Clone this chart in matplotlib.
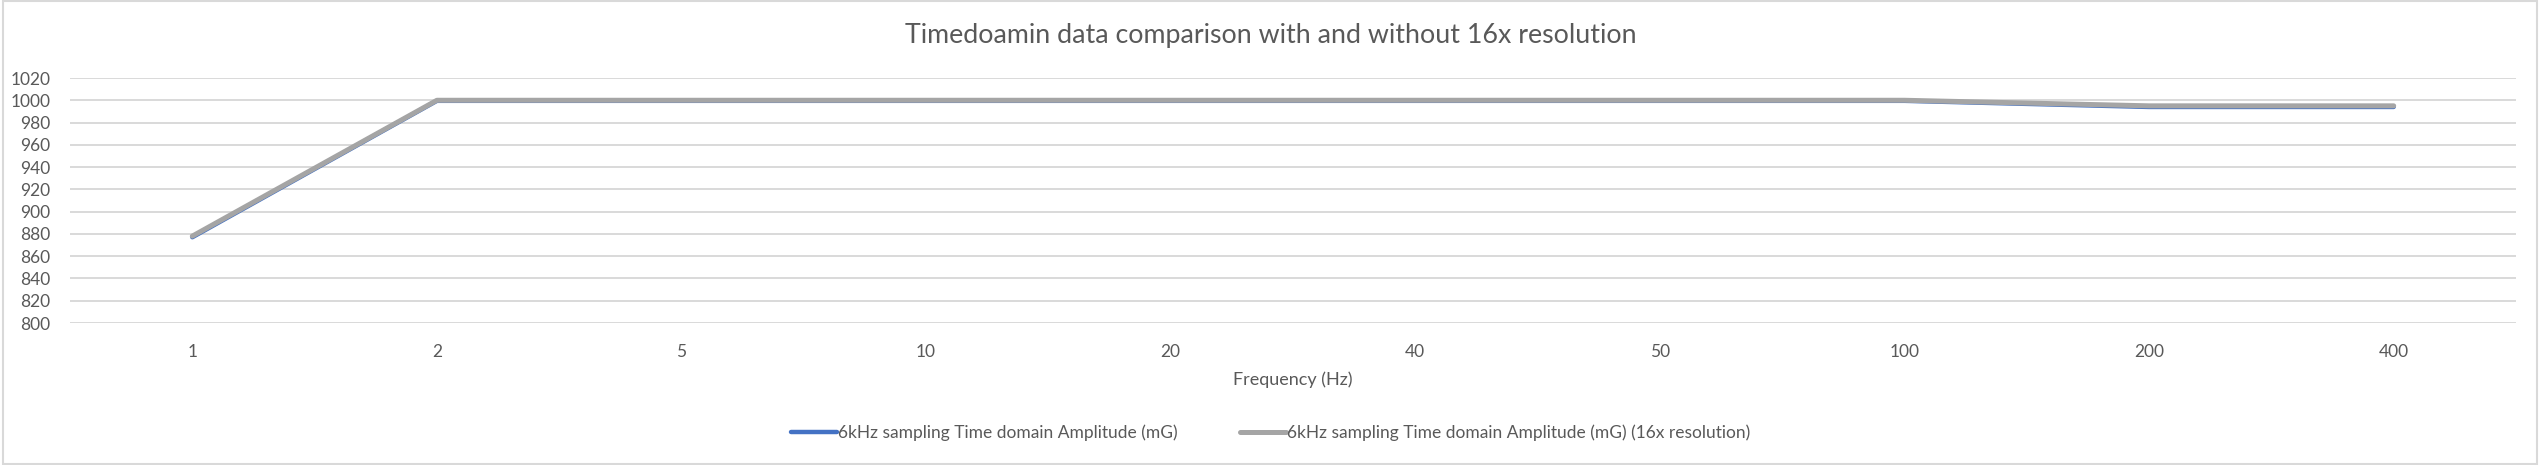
import numpy as np
import matplotlib
matplotlib.use("Agg")
from matplotlib import pyplot as plt
from matplotlib.patches import Rectangle

plt.rcParams['font.family'] = ['Lato', 'DejaVu Sans']

# data
freqs = ['1', '2', '5', '10', '20', '40', '50', '100', '200', '400']
amp_6k = [877, 999.5, 999.5, 999.5, 999.5, 999.5, 999.5, 999.5, 994, 994]
amp_6k_16x = [878, 1000, 1000, 1000, 1000, 1000, 1000, 1000, 995, 995]
yticks = np.arange(800, 1021, 20)

txt = '#595959'
fig = plt.figure(figsize=(25.42, 4.65), dpi=100)
ax = fig.add_axes([70/2542, 1-323/465, (2516-70)/2542, (323-78)/465])

x = np.arange(len(freqs))
ax.plot(x, amp_6k, color='#4472C4', lw=3.2, solid_capstyle='round',
        label='6kHz sampling Time domain Amplitude (mG)')
ax.plot(x, amp_6k_16x, color='#A5A5A5', lw=3.6, solid_capstyle='round',
        label='6kHz sampling Time domain Amplitude (mG) (16x resolution)')

ax.set_xlim(-0.5, len(freqs)-0.5)
ax.set_ylim(800, 1020)
ax.set_yticks(yticks)
ax.set_xticks(x)
ax.set_xticklabels(freqs)
ax.tick_params(length=0, labelsize=12.5, labelcolor=txt)
ax.tick_params(axis='y', pad=14)
ax.tick_params(axis='x', pad=15)
ax.grid(axis='y', color='#D9D9D9', lw=1.4)
ax.set_axisbelow(True)
for s in ax.spines.values():
    s.set_visible(False)
ax.set_xlabel('Frequency (Hz)', fontsize=13, color=txt, labelpad=8)

fig.text(0.5, 1-36/465, 'Timedoamin data comparison with and without 16x resolution',
         ha='center', va='center', fontsize=19.3, color=txt)

fig.legend(loc='center', bbox_to_anchor=(0.5, 1-433/465), ncol=2, frameon=False,
           fontsize=12.5, labelcolor=txt, handlelength=2.6, handletextpad=0.1,
           columnspacing=3.6)

fig.patches.append(Rectangle((0.001, 0.002), 0.997, 0.995, transform=fig.transFigure,
                             fill=False, edgecolor='#D9D9D9', lw=1.5))

fig.savefig('out.png', dpi=100, facecolor='white')
